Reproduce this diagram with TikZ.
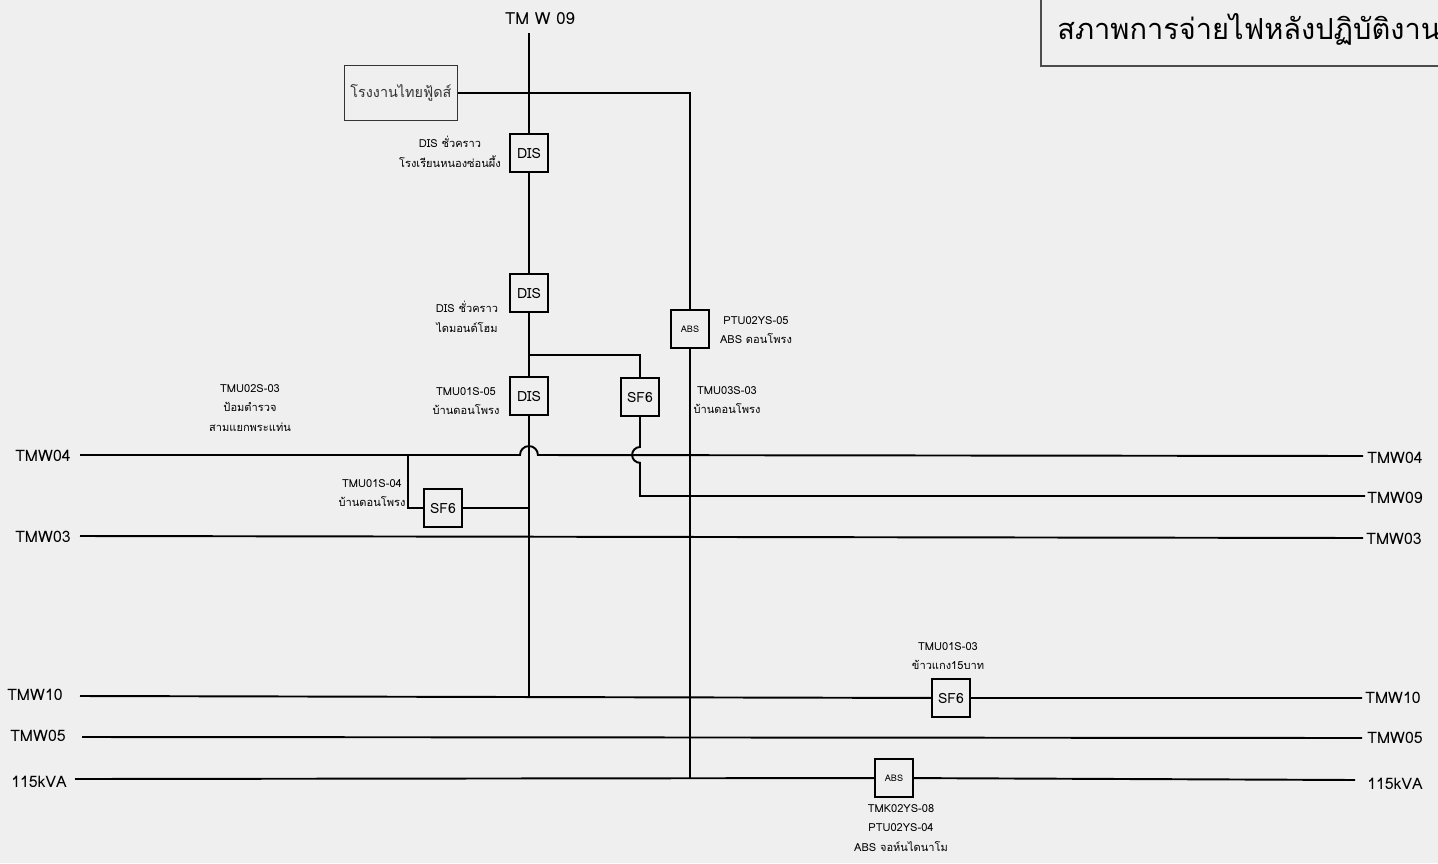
\documentclass[tikz,border=0pt]{standalone}
\usepackage{fontspec}
\setmainfont[Script=Thai]{Loma}
\usetikzlibrary{positioning}
\definecolor{paper}{RGB}{238,239,238}
\tikzset{
  wire/.style={line width=1.1pt, black},
  switchbox/.style={draw, line width=1.1pt, minimum width=0.76cm, minimum height=0.76cm,
    inner sep=0pt, font=\fontsize{8}{10}\selectfont},
  absbox/.style={switchbox, font=\fontsize{5.2}{6}\selectfont},
  tag/.style={align=center, font=\fontsize{6.3}{11.2}\selectfont, inner sep=0pt},
  busname/.style={font=\fontsize{9}{11}\selectfont, inner sep=0pt}
}
\begin{document}
\begin{tikzpicture}[x=0.02cm, y=-0.02cm]
        \useasboundingbox[fill=paper] (0,0) rectangle (1438,863);
        % title box
        \draw[line width=0.6pt, black!70] (1041,-10) rectangle (1460,66);
        \node[anchor=west, font=\fontsize{16.5}{20}\selectfont, inner sep=0pt] (title) at (1057,29) {สภาพการจ่ายไฟหลังปฏิบัติงาน};
        % main feeder from the top
        \node[font=\fontsize{9.5}{11}\selectfont, inner sep=0pt] (feed_name) at (540,19) {TM W 09};
        \coordinate (feed_top) at (529,33);
        \coordinate (junction) at (529,355);
        \coordinate (main_end) at (529,697);
        \node[switchbox] (dis_school) at (529,153) {DIS};
        \node[switchbox] (dis_diamond) at (529,293) {DIS};
        \node[switchbox] (dis_donphrong) at (529,396) {DIS};
        \node[switchbox] (sf6_donphrong) at (640,397) {SF6};
        \node[switchbox] (sf6_police) at (443,508) {SF6};
        \node[switchbox] (sf6_kaokaeng) at (951,698) {SF6};
        \node[absbox] (abs_donphrong) at (690,329) {ABS};
        \node[absbox] (abs_john) at (894,778) {ABS};
        \node[draw, line width=0.6pt, black!80, minimum width=2.26cm, minimum height=1.1cm,
          font=\fontsize{8.2}{10}\selectfont] (thai_foods) at (401,93) {โรงงานไทยฟู้ดส์};
        % labels
        \node[tag] (lbl_school) at (450,152) {DIS ชั่วคราว\\โรงเรียนหนองซ่อนผึ้ง};
        \node[tag] (lbl_diamond) at (467,317) {DIS ชั่วคราว\\ไดมอนด์โฮม};
        \node[tag] (lbl_dis_donphrong) at (466,401) {TMU01S-05\\บ้านดอนโพรง};
        \node[tag] (lbl_sf6_donphrong) at (727,400) {TMU03S-03\\บ้านดอนโพรง};
        \node[tag] (lbl_abs_donphrong) at (756,330) {PTU02YS-05\\ABS ดอนโพรง};
        \node[tag] (lbl_police) at (250,408) {TMU02S-03\\ป้อมตำรวจ\\สามแยกพระแท่น};
        \node[tag] (lbl_sf6_police) at (372,493) {TMU01S-04\\บ้านดอนโพรง};
        \node[tag] (lbl_kaokaeng) at (948,656) {TMU01S-03\\ข้าวแกง15บาท};
        \node[tag] (lbl_john) at (901,828) {TMK02YS-08\\PTU02YS-04\\ABS จอห์นไดนาโม};
        % bus bars
        \node[busname] (w04_l) at (43,456) {TMW04};
        \node[busname] (w03_l) at (43,537) {TMW03};
        \node[busname] (w10_l) at (35,695) {TMW10};
        \node[busname] (w05_l) at (38,736) {TMW05};
        \node[busname] (kva_l) at (39,782) {115kVA};
        \node[busname] (w04_r) at (1395,458) {TMW04};
        \node[busname] (w09_r) at (1395,498) {TMW09};
        \node[busname] (w03_r) at (1394,539) {TMW03};
        \node[busname] (w10_r) at (1393,698) {TMW10};
        \node[busname] (w05_r) at (1395,738) {TMW05};
        \node[busname] (kva_r) at (1395,784) {115kVA};
        \coordinate (w04_a) at (80,455);   \coordinate (w04_b) at (1363,456);
        \coordinate (w09_b) at (1365,496);
        \coordinate (w03_a) at (80,536);   \coordinate (w03_b) at (1363,538);
        \coordinate (w10_a) at (80,696);   \coordinate (w10_b) at (1362,698);
        \coordinate (w05_a) at (82,737);   \coordinate (w05_b) at (1362,738);
        \coordinate (kva_a) at (75,779);   \coordinate (kva_b) at (1355,780);
        \coordinate (hop_w04) at (520,455);
        \coordinate (tap_w04) at (408,455);
        \coordinate (hop_sf6) at (640,447);
        \coordinate (abs_tap) at (690,779);
        \draw[wire] (w04_a) -- (hop_w04) arc[start angle=180, end angle=0, radius=5.1pt] -- (w04_b);
        \draw[wire] (w03_a) -- (w03_b);
        \draw[wire] (w10_a) -- (sf6_kaokaeng) -- (w10_b);
        \draw[wire] (w05_a) -- (w05_b);
        \draw[wire] (kva_a) -- (abs_john) -- (kva_b);
        % feeder and branches
        \draw[wire] (feed_top) -- (dis_school) -- (dis_diamond) -- (junction) -- (dis_donphrong) -- (main_end);
        \draw[wire] (thai_foods.east) -| (abs_donphrong.north);
        \draw[wire] (abs_donphrong.south) -- (abs_tap);
        \draw[wire] (junction) -| (sf6_donphrong.north);
        \draw[wire] (sf6_donphrong.south) -- (hop_sf6) arc[start angle=90, end angle=270, radius=4.5pt] |- (w09_b);
        \draw[wire] (tap_w04) |- (sf6_police.west);
        \draw[wire] (sf6_police.east) -- (sf6_police.east -| main_end);
    \end{tikzpicture}
\end{document}
